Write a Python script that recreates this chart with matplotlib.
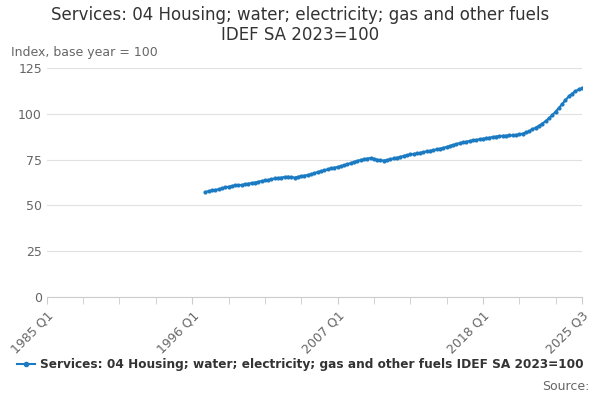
import numpy as np
import matplotlib.pyplot as plt
from matplotlib.lines import Line2D

title = "Services: 04 Housing; water; electricity; gas and other fuels\nIDEF SA 2023=100"
series_name = "Services: 04 Housing; water; electricity; gas and other fuels IDEF SA 2023=100"
start_year = 1997
values = [
    57.3, 57.8, 58.2, 58.5, 58.8, 59.3, 59.8, 60.2, 60.6, 60.9, 61.0, 61.2,
    61.5, 61.9, 62.2, 62.5, 62.9, 63.3, 63.6, 63.9, 64.3, 64.7, 65.0, 65.2,
    65.5, 65.7, 65.4, 65.2, 65.6, 66.0, 66.3, 66.6, 67.0, 67.6, 68.2, 68.7,
    69.1, 69.7, 70.2, 70.6, 71.0, 71.4, 71.9, 72.5, 73.1, 73.7, 74.3, 74.8,
    75.2, 75.6, 75.8, 75.5, 75.0, 74.6, 74.5, 74.8, 75.2, 75.7, 76.1, 76.5,
    77.0, 77.4, 77.8, 78.1, 78.4, 78.7, 79.1, 79.5, 79.8, 80.2, 80.6, 81.0,
    81.4, 81.9, 82.5, 83.0, 83.5, 84.0, 84.4, 84.8, 85.2, 85.5, 85.8, 86.1,
    86.4, 86.7, 87.0, 87.3, 87.6, 87.8, 88.0, 88.1, 88.2, 88.3, 88.5, 88.8,
    89.2, 89.8, 90.5, 91.5, 92.5, 93.5, 94.7, 96.0, 97.5, 99.3, 101.2, 103.2,
    105.3, 107.5, 109.5, 111.0, 112.3, 113.3, 114.0,
]
tick_labels = ["1985 Q1", "1996 Q1", "2007 Q1", "2018 Q1", "2025 Q3"]
tick_pos = [1985.0, 1996.0, 2007.0, 2018.0, 2025.5]
yticks = [0, 25, 50, 75, 100, 125]

x = start_year + np.arange(len(values)) / 4.0
color = "#1a7ac2"

fig = plt.figure(figsize=(6, 4), dpi=100)
ax = fig.add_axes([0.078, 0.2575, 0.892, 0.5725])
ax.plot(x, values, color=color, lw=1.5, marker="o", ms=2)
ax.set_xlim(1985, 2025.5)
ax.set_ylim(0, 125)
ax.set_yticks(yticks)
ax.set_xticks(tick_pos)
ax.set_xticklabels(tick_labels, rotation=45, ha="right", rotation_mode="anchor")
ax.set_xticks(np.arange(1985, 2025, 2.75), minor=True)
ax.grid(axis="y", color="#e0e0e0", lw=0.8)
ax.set_axisbelow(True)
for s in ["top", "right", "left"]:
    ax.spines[s].set_visible(False)
ax.spines["bottom"].set_color("#cccccc")
ax.tick_params(axis="y", length=0, labelsize=9, colors="#666666")
ax.tick_params(axis="x", which="both", color="#cccccc", length=5,
               labelsize=9, labelcolor="#666666")

fig.text(0.5, 0.985, title, ha="center", va="top", fontsize=12, color="#333333",
         linespacing=1.15)
fig.text(0.018, 0.86, "Index, base year = 100", fontsize=9, color="#666666")

h = Line2D([], [], color=color, lw=1.5, marker="o", ms=3)
fig.legend([h], [series_name], loc="lower center", bbox_to_anchor=(0.5, 0.045),
           frameon=False, prop={"weight": "bold", "size": 8.7}, handlelength=1.5,
           handletextpad=0.4, labelcolor="#333333")
fig.text(0.982, 0.025, "Source:", ha="right", fontsize=9, color="#666666")

fig.savefig("out.png", dpi=100)
